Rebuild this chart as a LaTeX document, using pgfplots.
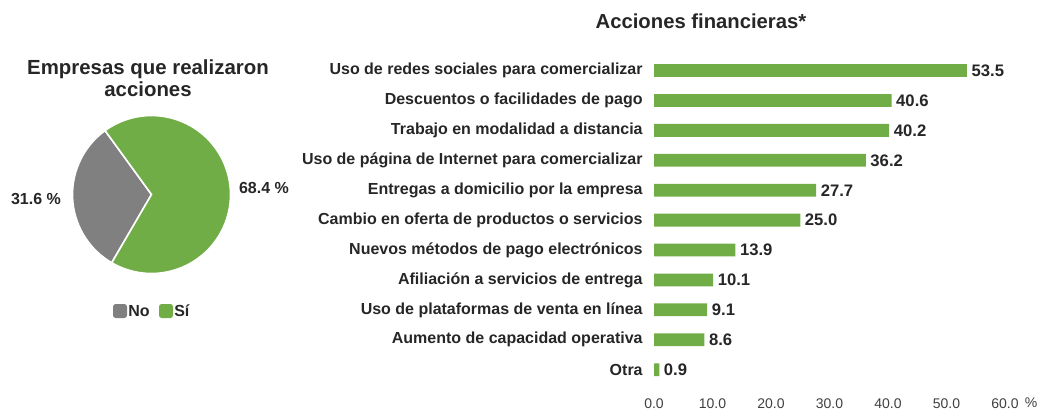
\documentclass[border=0pt]{standalone}
\usepackage{pgfplots}
\pgfplotsset{compat=1.18}
\usepackage{fontspec}
\setmainfont{Liberation Sans}
\definecolor{barg}{HTML}{70AD47}
\definecolor{pieg}{HTML}{808080}
\definecolor{txt}{HTML}{262626}
\definecolor{tick}{HTML}{404040}
\begin{document}
\begin{tikzpicture}
\useasboundingbox (0,0) rectangle (781.5pt,308.25pt);
\begin{scope}[yshift=308.25pt,x=0.75pt,y=-0.75pt]
% ---- titles
\node[font=\fontsize{15.2}{17}\selectfont\bfseries,text=txt] at (701,21) {Acciones financieras*};
\node[font=\fontsize{15.3}{16.5}\selectfont\bfseries,text=txt,align=center] at (148,78) {Empresas que realizaron\\acciones};
\node[font=\fontsize{12}{13}\selectfont\bfseries,text=txt] at (36,199) {31.6 \%};
\node[font=\fontsize{12}{13}\selectfont\bfseries,text=txt] at (264,188) {68.4 \%};
% ---- pie legend
\fill[pieg,rounded corners=2pt] (113,304) rectangle (127,318);
\node[font=\fontsize{12}{13}\selectfont\bfseries,text=txt,anchor=west,inner sep=0pt] at (128,311) {No};
\fill[barg,rounded corners=2pt] (159,304) rectangle (173,318);
\node[font=\fontsize{12}{13}\selectfont\bfseries,text=txt,anchor=west,inner sep=0pt] at (174,311) {Sí};
\node[font=\fontsize{10.5}{12}\selectfont,text=tick] at (1031,403) {\%};
\end{scope}
% ---- pie
\begin{scope}[shift={(113.625pt,162.375pt)},x=0.75pt,y=0.75pt]
  \def\startangle{126}
  \foreach \val/\col in {31.6/pieg,68.4/barg}{
    \pgfmathsetmacro{\delta}{3.6*\val}
    \fill[\col,draw=white,line width=1.2pt] (0,0) -- (\startangle:79) arc[start angle=\startangle,delta angle=\delta,radius=79] -- cycle;
    \pgfmathsetmacro{\newstart}{\startangle+\delta}
    \global\let\startangle\newstart
  }
\end{scope}
% ---- bar chart
\begin{axis}[
  at={(490.5pt,19.8pt)}, anchor=south west,
  scale only axis,
  width=263.25pt, height=246.75pt,
  xbar, bar width=9.6pt,
  xmin=0, xmax=60, ymin=-0.5, ymax=10.5,
  y dir=reverse,
  axis line style={draw=none},
  major tick length=0pt,
  xtick={0,10,...,60},
  ytick={0,...,10},
  yticklabels={Uso de redes sociales para comercializar,Descuentos o facilidades de pago,Trabajo en modalidad a distancia,Uso de página de Internet para comercializar,Entregas a domicilio por la empresa,Cambio en oferta de productos o servicios,Nuevos métodos de pago electrónicos,Afiliación a servicios de entrega,Uso de plataformas de venta en línea,Aumento de capacidad operativa,Otra},
  yticklabel style={font=\fontsize{12}{13}\selectfont\bfseries,text=txt,xshift=-5pt},
  xticklabel style={font=\fontsize{10.5}{12}\selectfont,text=tick,yshift=-7pt,
    /pgf/number format/.cd,fixed,fixed zerofill,precision=1},
  /pgf/number format/assume math mode=true,
  nodes near coords,
  nodes near coords style={font=\fontsize{12.5}{14}\selectfont\bfseries,text=txt,
    /pgf/number format/.cd,fixed,fixed zerofill,precision=1},
  point meta=x,
  clip=false,
]
\addplot[fill=barg,draw=none] coordinates {
(53.5,0) (40.6,1) (40.2,2) (36.2,3) (27.7,4) (25.0,5) (13.9,6) (10.1,7) (9.1,8) (8.6,9) (0.9,10)};
\end{axis}
\end{tikzpicture}
\end{document}
